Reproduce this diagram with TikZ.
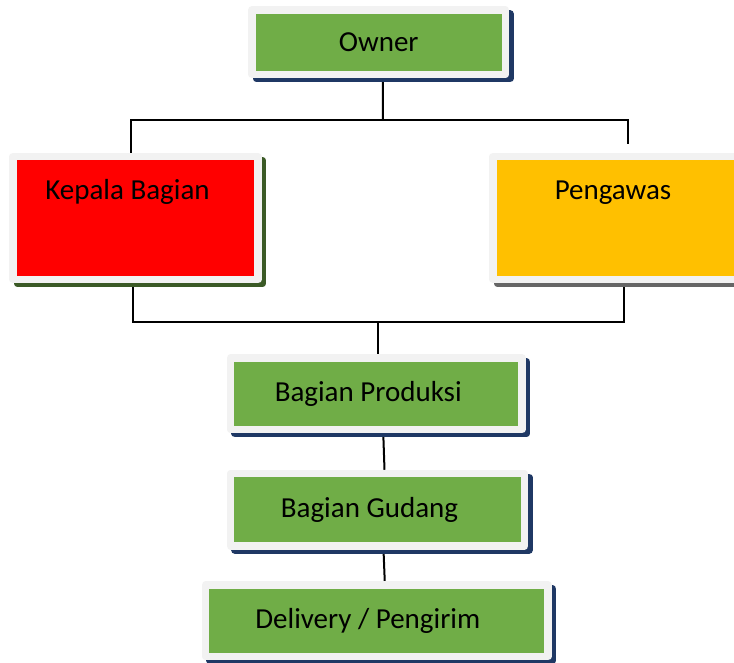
\documentclass[tikz,border=0pt]{standalone}
\usepackage{fontspec}
\setmainfont{Carlito}
\usetikzlibrary{backgrounds}
\definecolor{boxgreen}{HTML}{70AD47}
\definecolor{boxred}{HTML}{FF0000}
\definecolor{boxyellow}{HTML}{FFC000}
\definecolor{framegray}{HTML}{F2F2F2}
\definecolor{navyshade}{HTML}{1F3864}
\definecolor{greenshade}{HTML}{3B5A26}
\definecolor{grayshade}{HTML}{666666}
\tikzstyle{chart}=[draw=framegray,line width=7.5pt,line join=round,inner sep=0pt,font=\fontsize{29}{34}\selectfont]
\tikzstyle{navy}=[preaction={draw=navyshade,fill=navyshade,transform canvas={xshift=4.5pt,yshift=-4pt}}]
\tikzstyle{olive}=[preaction={draw=greenshade,fill=greenshade,transform canvas={xshift=4.5pt,yshift=-4pt}}]
\tikzstyle{grey}=[preaction={draw=grayshade,fill=grayshade,transform canvas={xshift=4.5pt,yshift=-4pt}}]
\tikzstyle{tall}=[text height=42.7pt,text depth=80.3pt]
\tikzstyle{link}=[draw=black,line width=2pt]

\begin{document}
\begin{tikzpicture}[x=1pt,y=-1pt]
    \path[use as bounding box,clip] (0,0) rectangle (734,662);
    \node[chart,navy,fill=boxgreen,minimum width=253.5pt,minimum height=64.5pt] (owner) at (378.75,42.25) {Owner};
    \node[chart,olive,tall,fill=boxred,minimum width=245pt,minimum height=123pt] (kepala) at (135.5,218) {Kepala Bagian\hspace*{16pt}};
    \node[chart,grey,tall,fill=boxyellow,minimum width=245pt,minimum height=123pt] (pengawas) at (615.5,218) {Pengawas\hspace*{5pt}};
    \node[chart,navy,fill=boxgreen,minimum width=291.5pt,minimum height=71.5pt] (produksi) at (376.25,393.75) {Bagian Produksi\hspace*{16pt}};
    \node[chart,navy,fill=boxgreen,minimum width=294pt,minimum height=72.5pt] (gudang) at (377.5,509.75) {Bagian Gudang\hspace*{16pt}};
    \node[chart,navy,fill=boxgreen,minimum width=342.5pt,minimum height=71.5pt] (delivery) at (376.75,620.75) {Delivery / Pengirim\hspace*{18pt}};
    \begin{scope}[on background layer]
        \coordinate (topbus) at (383,120);
        \coordinate (lowbus) at (378,322);
        \draw[link] ([xshift=4pt]owner.south) -- (topbus);
        \draw[link] ([xshift=-4.5pt]kepala.north) |- (topbus) -| ([xshift=12pt,yshift=9pt]pengawas.north);
        \draw[link] ([xshift=-2.5pt]kepala.south) |- (lowbus) -| ([xshift=8.5pt]pengawas.south);
        \draw[link] (lowbus) -- (produksi.north -| lowbus);
        \draw[link] ([xshift=7pt]produksi.south) -- ([xshift=7pt]gudang.north);
        \draw[link] ([xshift=6pt]gudang.south) -- ([xshift=8pt]delivery.north);
    \end{scope}
\end{tikzpicture}
\end{document}
